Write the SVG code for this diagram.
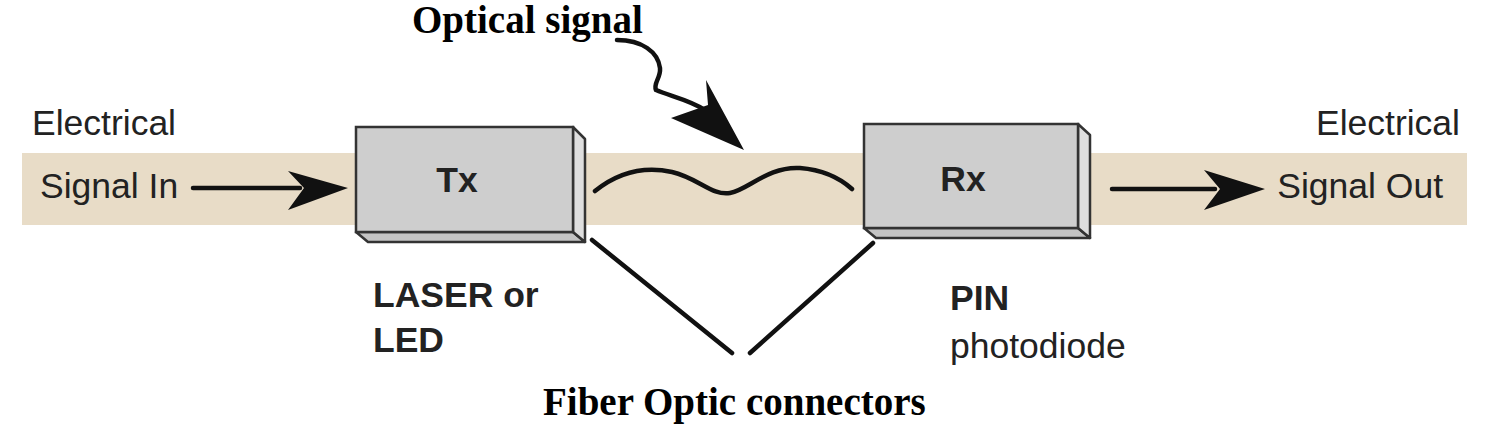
<svg xmlns="http://www.w3.org/2000/svg" width="1492" height="433" viewBox="0 0 1492 433">
<style>
.sans{font-family:"Liberation Sans",Arial,sans-serif;fill:#222;font-size:35.5px}
.b{font-weight:bold}
.serif{font-family:"Liberation Serif","Times New Roman",serif;font-weight:bold;font-size:39px;fill:#000}
.front{fill:#cecece;stroke:#333;stroke-width:2.5}
.side{fill:#dedede;stroke:#333;stroke-width:2.5;stroke-linejoin:round}
.bottom{fill:#c4c4c4;stroke:#333;stroke-width:2.5;stroke-linejoin:round}
.line{stroke:#111;stroke-width:4.5;fill:none;stroke-linecap:round}
.head{fill:#111}
</style>
<rect x="22" y="153" width="1445" height="72" fill="#e8dcc7"/>
<g id="labels">
<text class="sans" x="32" y="135">Electrical</text>
<text class="sans" x="40" y="198">Signal In</text>
<text class="sans" x="1460" y="135" text-anchor="end">Electrical</text>
<text class="sans" x="1443" y="198" text-anchor="end">Signal Out</text>
<text class="sans b" x="373" y="307">LASER or</text>
<text class="sans b" x="373" y="352">LED</text>
<text class="sans b" x="950" y="310">PIN</text>
<text class="sans" x="950" y="358">photodiode</text>
<text class="serif" x="412" y="33">Optical signal</text>
<text class="serif" x="543" y="415">Fiber Optic connectors</text>
</g>
<g id="tx">
<polygon class="bottom" points="356,232 573,232 585,242 368,242"/>
<polygon class="side" points="573,127 585,139 585,242 573,232"/>
<rect class="front" x="356" y="127" width="217" height="105"/>
<text class="sans b" x="457" y="192" text-anchor="middle">Tx</text>
</g>
<g id="rx">
<polygon class="bottom" points="864,228 1078,228 1090,238 876,238"/>
<polygon class="side" points="1078,124 1090,135 1090,238 1078,228"/>
<rect class="front" x="864" y="124" width="214" height="104"/>
<text class="sans b" x="963" y="191" text-anchor="middle">Rx</text>
</g>
<g id="connectors">
<line class="line" x1="193" y1="188" x2="300" y2="188"/>
<polygon class="head" points="348,188 288,171 304,188 288,210"/>
<line class="line" x1="1112" y1="189" x2="1215" y2="189"/>
<polygon class="head" points="1265,189 1204,170 1220,189 1204,210"/>
<path class="line" stroke-width="5" d="M595,191 C615,175 640,165 672,172 C698,178 712,196 730,193 C748,190 768,166 800,168 C825,170 842,180 852,189"/>
<path class="line" stroke-width="6" stroke-linecap="butt" d="M617,40 C642,40 658,52 660,68 C661,78 653,83 656,90 C670,96 690,100 705,110"/>
<polygon class="head" points="744,150 706,80 708,105 671,118"/>
<line class="line" x1="592" y1="240" x2="732" y2="353"/>
<line class="line" x1="750" y1="353" x2="873" y2="243"/>
</g>
</svg>
